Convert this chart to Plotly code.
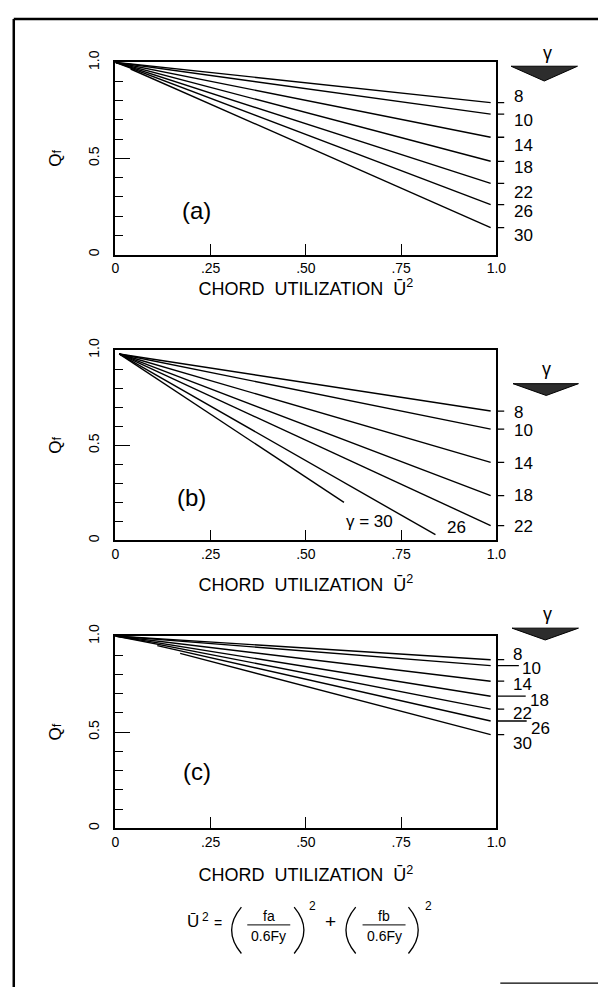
import plotly.graph_objects as go

W, H = 608, 989
FONT = "Liberation Sans"


def px(x):
    return x / W


def py(y):
    return 1 - y / H


# ---------------- data ----------------
gamma = [8, 10, 14, 18, 22, 26, 30]

# panel (a)
a_x0 = [0.0, 0.0, 0.0, 0.0, 0.0, 0.0, 0.04]
a_y0 = [1.0, 1.0, 1.0, 1.0, 1.0, 1.0, 0.965]
a_x1 = [0.985, 0.985, 0.985, 0.985, 0.985, 0.985, 0.985]
a_y1 = [0.79, 0.73, 0.61, 0.485, 0.37, 0.26, 0.14]

# panel (b)
b_x0 = [0.01, 0.01, 0.01, 0.01, 0.01, 0.01, 0.01]
b_y0 = [0.98, 0.98, 0.98, 0.98, 0.98, 0.98, 0.98]
b_x1 = [0.985, 0.985, 0.985, 0.985, 0.985, 0.84, 0.60]
b_y1 = [0.68, 0.585, 0.41, 0.235, 0.078, 0.03, 0.20]

# panel (c)
c_x0 = [0.0, 0.0, 0.0, 0.0, 0.0, 0.11, 0.17]
c_y0 = [1.0, 1.0, 1.0, 1.0, 1.0, 0.95, 0.91]
c_x1 = [0.985, 0.985, 0.985, 0.985, 0.985, 0.985, 0.985]
c_y1 = [0.877, 0.846, 0.765, 0.687, 0.62, 0.558, 0.487]

x_tickvals = [0, 0.25, 0.5, 0.75, 1.0]
x_ticktext = ["0", ".25", ".50", ".75", "1.0"]
y_tickvals = [0, 0.5, 1.0]
y_ticktext = ["0", "0.5", "1.0"]
panel_letters = ["(a)", "(b)", "(c)"]
x_title = "CHORD  UTILIZATION  \u016a<sup>2</sup>"
y_title = "Q<span style='font-size:13px'>f</span>"

# ---------------- layout geometry (pixels) ----------------
box_left, box_right = 114, 504
panels = [
    dict(top=51, bottom=246, xs=(a_x0, a_y0, a_x1, a_y1), sfx="",
         letter_pos=(0.213, 0.231), title_standoff=7,
         lab_shift=[6, -6, -8, -6, -9, -7, -8],
         lab_x=[520, 520, 520, 520, 520, 520, 520],
         leader=[512, 512, 512, 512, 512, 512, 512],
         show=[1, 1, 1, 1, 1, 1, 1],
         gam=(556, 42), tri=(519, 587, 55, 553, 70)),
    dict(top=343, bottom=536, xs=(b_x0, b_y0, b_x1, b_y1), sfx="2",
         letter_pos=(0.20, 0.223), title_standoff=17,
         lab_shift=[-1, -1, -1, 0, -1, 0, 0],
         lab_x=[520, 520, 520, 520, 520, 0, 0],
         leader=[512, 512, 512, 512, 512, 0, 0],
         show=[1, 1, 1, 1, 1, 0, 0],
         gam=(555, 362), tri=(521, 588, 377, 555, 389)),
    dict(top=633, bottom=828, xs=(c_x0, c_y0, c_x1, c_y1), sfx="3",
         letter_pos=(0.213, 0.297), title_standoff=20,
         lab_shift=[5, -3, -3, -4, -4, -7, -9],
         lab_x=[519, 528, 519, 536, 519, 537, 519],
         leader=[512, 527, 512, 534, 512, 535, 512],
         show=[1, 1, 1, 1, 1, 1, 1],
         gam=(556, 611), tri=(520, 588, 625, 554, 637)),
]

fig = go.Figure()
shapes = []
annotations = []
layout_axes = {}

for i, p in enumerate(panels):
    sfx = p["sfx"]
    xname, yname = "x" + sfx, "y" + sfx
    x0s, y0s, x1s, y1s = p["xs"]
    for j in range(len(gamma)):
        fig.add_trace(go.Scatter(
            x=[x0s[j], x1s[j]], y=[y0s[j], y1s[j]], mode="lines",
            line=dict(color="black", width=1.4), xaxis=xname, yaxis=yname,
            showlegend=False, hoverinfo="skip"))

    layout_axes["xaxis" + sfx] = dict(
        domain=[px(box_left), px(box_right)], anchor=yname, range=[0, 1],
        showline=True, mirror=True, linecolor="black", linewidth=1.6,
        showgrid=False, zeroline=False, tickmode="array",
        tickvals=x_tickvals, ticktext=x_ticktext, ticks="inside",
        ticklen=11, tickwidth=1.3, tickcolor="black",
        tickfont=dict(family=FONT, size=14, color="black"),
        ticklabelstandoff=0,
        title=dict(text=x_title, standoff=p["title_standoff"],
                   font=dict(family=FONT, size=18, color="black")),
    )
    layout_axes["yaxis" + sfx] = dict(
        domain=[py(p["bottom"]), py(p["top"])], anchor=xname, range=[0, 1],
        showline=True, mirror=True, linecolor="black", linewidth=1.6,
        showgrid=False, zeroline=False, tickmode="array",
        tickvals=y_tickvals, ticktext=y_ticktext, tickangle=-90,
        ticks="inside", ticklen=15, tickwidth=1.3, tickcolor="black",
        minor=dict(dtick=0.1, tick0=0, ticks="inside", ticklen=8,
                   tickwidth=1.3, tickcolor="black", showgrid=False),
        tickfont=dict(family=FONT, size=14, color="black"),
        ticklabelstandoff=9,
        title=dict(text=y_title, standoff=20,
                   font=dict(family=FONT, size=17, color="black")),
    )

    # panel letter
    annotations.append(dict(
        text=panel_letters[i], x=p["letter_pos"][0], y=p["letter_pos"][1],
        xref=xname, yref=yname, showarrow=False,
        xanchor="center", yanchor="middle",
        font=dict(family=FONT, size=24, color="black")))

    # gamma labels on right
    for j, g in enumerate(gamma):
        if not p["show"][j]:
            continue
        shapes.append(dict(type="line", xref="paper", yref=yname,
                           x0=px(box_right), x1=px(p["leader"][j]),
                           y0=y1s[j], y1=y1s[j],
                           line=dict(color="black", width=1.3)))
        annotations.append(dict(
            text=str(g), x=px(p["lab_x"][j]), y=y1s[j], yshift=p["lab_shift"][j],
            xref="paper", yref=yname, xanchor="left", yanchor="middle",
            showarrow=False,
            font=dict(family=FONT, size=17, color="black")))

    # gamma header + arrow
    gx, gy = p["gam"]
    annotations.append(dict(text="\u03b3", x=px(gx), y=py(gy), xref="paper",
                            yref="paper", showarrow=False,
                            xanchor="center", yanchor="middle",
                            font=dict(family=FONT, size=18, color="black")))
    tl, tr, tt, tx, tb = p["tri"]
    shapes.append(dict(
        type="path", xref="paper", yref="paper",
        path=f"M {px(tl)},{py(tt)} L {px(tr)},{py(tt)} L {px(tx)},{py(tb)} Z",
        fillcolor="rgb(45,45,45)", line=dict(color="black", width=1)))

# in-plot labels of panel (b)
annotations.append(dict(text="\u03b3 = 30", x=0.666, y=0.10, xref="x2", yref="y2",
                        xanchor="center", yanchor="middle", showarrow=False,
                        font=dict(family=FONT, size=17, color="black")))
annotations.append(dict(text="26", x=0.895, y=0.07, xref="x2", yref="y2",
                        xanchor="center", yanchor="middle", showarrow=False,
                        font=dict(family=FONT, size=17, color="black")))


# ---------------- formula ----------------
def txt(t, x, y, size):
    annotations.append(dict(text=t, x=px(x), y=py(y), xref="paper", yref="paper",
                            xanchor="center", yanchor="middle", showarrow=False,
                            font=dict(family=FONT, size=size, color="black")))


txt("\u016a", 193, 923, 17)
txt("2", 206, 918, 12)
txt("=", 219, 924, 14)
txt("fa", 271, 917, 14)
txt("0.6Fy", 271, 937, 14)
txt("2", 316, 907, 12)
txt("+", 334, 923, 19)
txt("fb", 389, 917, 14)
txt("0.6Fy", 389, 937, 14)
txt("2", 434, 907, 12)


def pline(x0, y0, x1, y1, w=1.2):
    shapes.append(dict(type="line", xref="paper", yref="paper",
                       x0=px(x0), y0=py(y0), x1=px(x1), y1=py(y1),
                       line=dict(color="black", width=w)))


def paren(xs, xc, ytop, ybot):
    ym = (ytop + ybot) / 2
    shapes.append(dict(type="path", xref="paper", yref="paper",
                       path=f"M {px(xs)},{py(ytop)} Q {px(xc)},{py(ym)} {px(xs)},{py(ybot)}",
                       line=dict(color="black", width=1.3)))


pline(249, 926, 293, 926, 1.0)
pline(367, 926, 411, 926, 1.0)
paren(243, 223, 908, 955)
paren(297, 317, 908, 955)
paren(360, 340, 908, 955)
paren(414, 434, 908, 955)

# frame
pline(10, 7, 608, 7, 2.5)
pline(10, 7, 10, 989, 2.5)
pline(508, 985, 608, 985, 1.2)

fig.update_layout(
    width=W, height=H, autosize=False,
    margin=dict(l=0, r=0, t=0, b=0),
    paper_bgcolor="white", plot_bgcolor="white",
    shapes=shapes, annotations=annotations,
    font=dict(family=FONT, color="black"),
    **layout_axes,
)

fig.write_html("out.html",
               post_script="document.body.style.margin='0';document.body.style.overflow='hidden';")
